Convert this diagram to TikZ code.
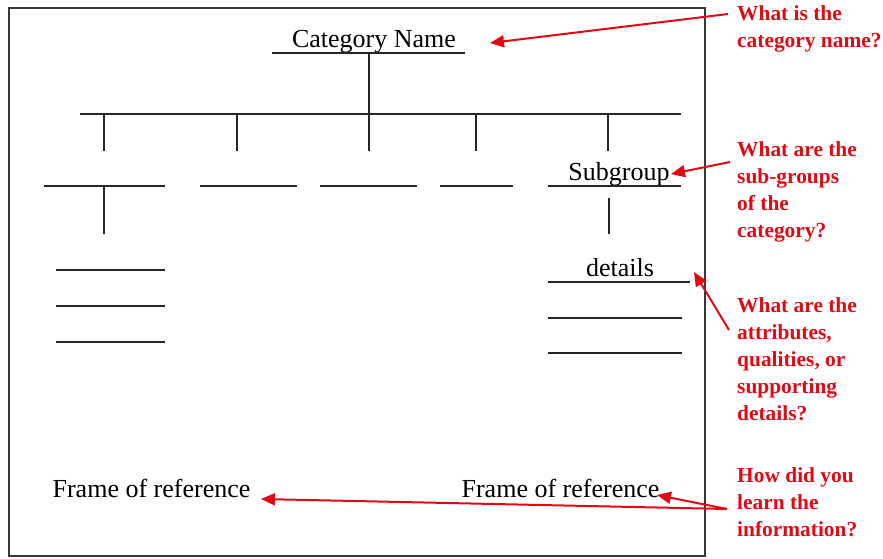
\documentclass[tikz,border=0pt]{standalone}
\usepackage{fontspec}
\setmainfont{Liberation Serif}
\usetikzlibrary{arrows.meta}
\definecolor{annred}{RGB}{225,10,20}
\definecolor{framegray}{RGB}{55,55,55}
\begin{document}
\begin{tikzpicture}[x=1pt,y=-1pt,
  blk/.style={line width=2pt, black!85},
  lbl/.style={inner sep=0pt, anchor=base, font=\fontsize{26}{30}\selectfont},
  note/.style={inner sep=0pt, anchor=base west, align=left, text=annred,
    font=\fontsize{21.4}{27}\selectfont\bfseries},
  ann/.style={annred, line width=2pt, -{Triangle[length=14pt,width=12pt]}}]
\useasboundingbox (0,0) rectangle (883,559);
\draw[line width=2pt, framegray] (8.5,8) rectangle (704.5,556);

% texts
\node[lbl] (cat) at (374,48) {Category Name};
\node[lbl] (sub) at (619,180) {Subgroup};
\node[lbl] (det) at (620,276) {details};
\node[lbl] (forL) at (151.5,497) {Frame of reference};
\node[lbl] (forR) at (560.5,497) {Frame of reference};

% tree
\coordinate (catL) at (272,53); \coordinate (catR) at (465,53);
\coordinate (catM) at (369,53); \coordinate (barM) at (369,114);
\coordinate (barL) at (80,114); \coordinate (barR) at (681,114);
\draw[blk] (catL) -- (catR);
\draw[blk] (catM) -- (barM);
\draw[blk] (barL) -- (barR);
\foreach \x [count=\i] in {104,237,369,476,608}{
  \coordinate (t\i a) at (\x,114); \coordinate (t\i b) at (\x,151);
  \draw[blk] (t\i a) -- (t\i b);
}
\foreach \a/\b [count=\i] in {44/165,200/297,320/417,440/513,548/681}{
  \coordinate (s\i a) at (\a,186); \coordinate (s\i b) at (\b,186);
  \draw[blk] (s\i a) -- (s\i b);
}
\coordinate (v1a) at (104,186); \coordinate (v1b) at (104,234);
\draw[blk] (v1a) -- (v1b);
\coordinate (v5a) at (609,198); \coordinate (v5b) at (609,234);
\draw[blk] (v5a) -- (v5b);
\foreach \y [count=\i] in {270,306,342}{
  \coordinate (l\i a) at (56,\y); \coordinate (l\i b) at (165,\y);
  \draw[blk] (l\i a) -- (l\i b);
}
\coordinate (r1a) at (548,282); \coordinate (r1b) at (690,282);
\draw[blk] (r1a) -- (r1b);
\foreach \y [count=\i from 2] in {318,353}{
  \coordinate (r\i a) at (548,\y); \coordinate (r\i b) at (682,\y);
  \draw[blk] (r\i a) -- (r\i b);
}

% notes (base anchor = baseline of the last line)
\node[note] (n1) at (737,48) {What is the\\category name?};
\node[note] (n2) at (737,237) {What are the\\sub-groups\\of the\\category?};
\node[note] (n3) at (737,420) {What are the\\attributes,\\qualities, or\\supporting\\details?};
\node[note] (n4) at (737,536) {How did you\\learn the\\information?};

% arrows
\coordinate (a1s) at (728,14);  \coordinate (a1t) at (490,43);
\coordinate (a2s) at (730,162); \coordinate (a2t) at (671,174);
\coordinate (a3s) at (729,330); \coordinate (a3t) at (694,272);
\coordinate (a4s) at (727,509); \coordinate (a4t) at (657,495);
\coordinate (a5t) at (261,499);
\draw[ann] (a1s) -- (a1t);
\draw[ann] (a2s) -- (a2t);
\draw[ann] (a3s) -- (a3t);
\draw[ann] (a4s) -- (a4t);
\draw[ann] (a4s) -- (a5t);
\end{tikzpicture}
\end{document}
